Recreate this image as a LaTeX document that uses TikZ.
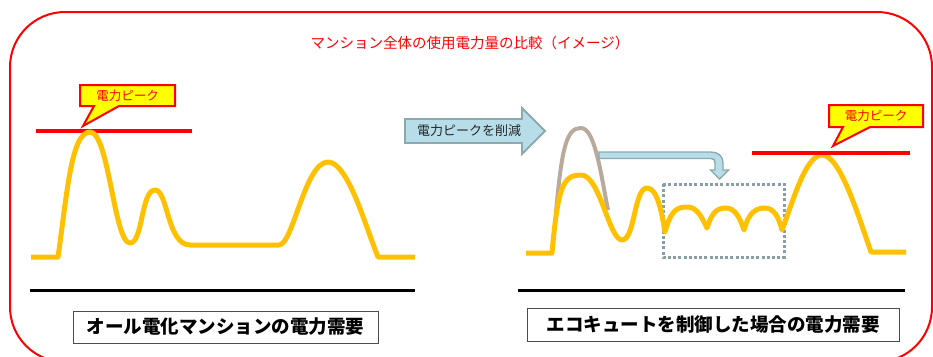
\documentclass[tikz,border=0pt]{standalone}
\usepackage{fontspec}
\newfontfamily\jp{Noto Sans CJK JP}
\definecolor{curveC}{HTML}{FFC000}
\definecolor{peakC}{HTML}{FF0000}
\definecolor{calloutC}{HTML}{FFFF00}
\definecolor{arrowFill}{HTML}{B7DEE8}
\definecolor{arrowLine}{HTML}{8DA9AE}
\definecolor{oldC}{HTML}{B8AB9C}
\definecolor{dotC}{HTML}{8A9FA4}
\begin{document}
\begin{tikzpicture}[x=1pt,y=-1pt,
  demand/.style={draw=curveC, line width=5pt, line join=round},
  oldpeak/.style={draw=oldC, line width=4pt},
  peakline/.style={draw=peakC, line width=3.5pt},
  baseline/.style={draw=black, line width=3pt},
  callout/.style={fill=calloutC, draw=peakC, line width=2pt, line join=miter},
  callouttext/.style={text=peakC, font=\jp\fontsize{12.5}{14}\selectfont, inner sep=0pt},
  blockarrow/.style={fill=arrowFill, draw=arrowLine, line width=1.8pt, line join=miter},
  labelbox/.style={draw=black!70, line width=0.9pt, fill=white, inner sep=0pt,
    font=\jp\bfseries\fontsize{18.5}{20}\selectfont},
  shiftbox/.style={draw=dotC, line width=3pt, dash pattern=on 3pt off 2.2pt}]
\useasboundingbox (0,0) rectangle (933,356);
\clip (0,0) rectangle (933,356);
% frame
\draw[peakC, line width=2pt, rounded corners=55pt] (10,12) rectangle (932,362);
\node[text=peakC, font=\jp\fontsize{14.5}{16}\selectfont] (title) at (470,43)
  {マンション全体の使用電力量の比較（イメージ）};

% ---- left chart ----
\draw[peakline] (36,131) coordinate (l1a) -- (192,131) coordinate (l1b);
\draw[callout] (80,85) -- (175,85) -- (175,106) -- (119,106) -- (83,126) -- (94,106) -- (80,106) -- cycle;
\node[callouttext] (pk1) at (127.5,95.5) {電力ピーク};
\draw[demand] (31,257) -- (58,257)
  .. controls (67,195) and (71,132) .. (90,132)
  .. controls (109,132) and (114,243) .. (130,243)
  .. controls (143,243) and (141,190) .. (155,190)
  .. controls (168,190) and (167,245) .. (190,245)
  -- (279,245)
  .. controls (293,245) and (305,162) .. (328,162)
  .. controls (348,162) and (366,228) .. (378,257)
  -- (415,257);
\draw[baseline] (30,290) coordinate (b1a) -- (415,290) coordinate (b1b);
\node[labelbox, minimum width=305pt, minimum height=32pt] (lab1) at (225.5,327)
  {オール電化マンションの電力需要};

% ---- big arrow ----
\draw[blockarrow] (405,119) -- (522,119) -- (522,108) -- (545,131) -- (522,154) -- (522,143) -- (405,143) -- cycle;
\node[font=\jp\fontsize{13}{15}\selectfont, text=black!85, inner sep=0pt] (cut) at (469,131) {電力ピークを削減};

% ---- right chart ----
\draw[oldpeak] (556,212) .. controls (562,145) and (567,128) .. (581,128)
  .. controls (595,128) and (601,175) .. (608,210);
\draw[blockarrow, line width=1.4pt] (599,152) -- (711,152) .. controls (718,152) and (723,156) .. (723,163)
  -- (723,170) -- (728.5,170) -- (719.5,179) -- (710.5,170) -- (715,170) -- (715,163)
  .. controls (715,160) and (714,158.5) .. (711,158.5) -- (599,158.5) -- cycle;
\draw[shiftbox] (663,184) rectangle (784,257);
\draw[demand] (526,253) -- (552,253)
  .. controls (558,186) and (563,175) .. (581,175)
  .. controls (600,175) and (609,240) .. (622,240)
  .. controls (635,240) and (634,188) .. (647,188)
  .. controls (658,188) and (662,215) .. (665,232)
  .. controls (671,210) and (677,207) .. (687,207)
  .. controls (696,207) and (701,215) .. (707,228)
  .. controls (712,212) and (717,208) .. (726,208)
  .. controls (735,208) and (740,218) .. (744,230)
  .. controls (749,212) and (756,208) .. (765,208)
  .. controls (774,208) and (779,218) .. (782,230)
  .. controls (792,205) and (805,155) .. (822,155)
  .. controls (840,155) and (858,215) .. (871,252)
  -- (906,252);
\draw[peakline] (752,153) coordinate (r1a) -- (910,153) coordinate (r1b);
\draw[callout] (829,105) -- (923,105) -- (923,127) -- (870,127) -- (833,146) -- (843,127) -- (829,127) -- cycle;
\node[callouttext] (pk2) at (876,116) {電力ピーク};
\draw[baseline] (518,290) coordinate (b2a) -- (905,290) coordinate (b2b);
\node[labelbox, minimum width=372pt, minimum height=33pt] (lab2) at (713,324.5)
  {エコキュートを制御した場合の電力需要};
\end{tikzpicture}
\end{document}
